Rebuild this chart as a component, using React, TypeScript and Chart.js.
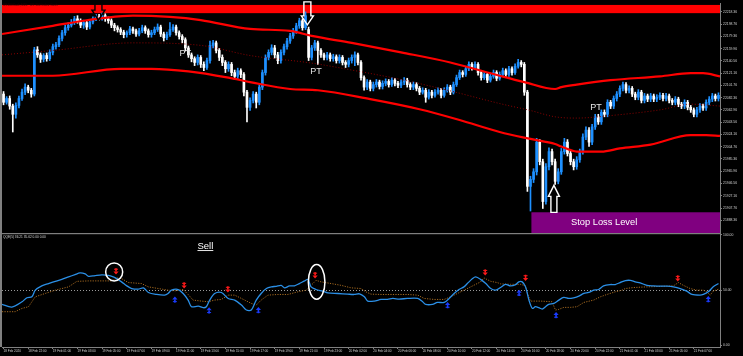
import React, { useEffect, useRef } from "react";
import { Chart, registerables } from "chart.js";
Chart.register(...registerables);

// ---------- price candles (US100Cash M15) ----------
const opens = [
22088,22075,22081,22069,22056,22070,22081,22091,22099,22094,
22088,22158,22150,22143,22149,22144,22154,22163,22166,22176,
22185,22193,22197,22201,22207,22204,22197,22201,22194,22202,
22207,22210,22208,22212,22207,22204,22197,22193,22190,22186,
22182,22185,22191,22188,22183,22188,22193,22188,22182,22185,
22190,22194,22183,22177,22182,22190,22194,22185,22179,22174,
22161,22150,22144,22138,22146,22135,22130,22141,22165,22169,
22157,22146,22138,22128,22135,22122,22116,22125,22119,22091,
22067,22078,22088,22075,22099,22122,22146,22154,22161,22150,
22141,22154,22163,22172,22180,22188,22196,22204,22193,22190,
22146,22161,22169,22157,22150,22146,22150,22144,22147,22141,
22146,22138,22135,22141,22146,22150,22138,22114,22099,22107,
22097,22103,22107,22100,22105,22108,22103,22110,22105,22102,
22107,22110,22103,22099,22103,22097,22091,22094,22083,22091,
22086,22091,22094,22086,22094,22099,22091,22103,22114,22122,
22119,22128,22135,22130,22135,22122,22114,22119,22110,22116,
22122,22113,22119,22125,22119,22128,22122,22132,22138,22135,
22091,21942,21953,21965,22012,21981,21918,21973,21997,21981,
21950,21965,21997,22012,21994,21981,21973,21984,21997,22020,
22031,22012,22036,22052,22044,22059,22056,22075,22069,22081,
22088,22097,22103,22094,22097,22088,22083,22091,22078,22085,
22080,22085,22080,22083,22086,22081,22085,22078,22075,22080,
22072,22069,22075,22067,22063,22056,22063,22069,22066,22075,
22080,22085,22081
];
const closes = [
22075,22081,22069,22056,22070,22081,22091,22099,22094,22088,
22158,22150,22143,22149,22144,22154,22163,22166,22176,22185,
22193,22197,22201,22207,22204,22197,22201,22194,22202,22207,
22210,22208,22212,22207,22204,22197,22193,22190,22186,22182,
22185,22191,22188,22183,22188,22193,22188,22182,22185,22190,
22194,22183,22177,22182,22190,22194,22185,22179,22174,22161,
22150,22144,22138,22146,22135,22130,22141,22165,22169,22157,
22146,22138,22128,22135,22122,22116,22125,22119,22091,22067,
22078,22088,22075,22099,22122,22146,22154,22161,22150,22141,
22154,22163,22172,22180,22188,22196,22204,22193,22212,22146,
22161,22169,22157,22150,22146,22150,22144,22147,22141,22146,
22138,22135,22141,22146,22150,22138,22114,22099,22107,22097,
22103,22107,22100,22105,22108,22103,22110,22105,22102,22107,
22110,22103,22099,22103,22097,22091,22094,22083,22091,22086,
22091,22094,22086,22094,22099,22091,22103,22114,22122,22119,
22128,22135,22130,22135,22122,22114,22119,22110,22116,22122,
22113,22119,22125,22119,22128,22122,22132,22138,22135,22091,
21942,21953,21965,22012,21981,21918,21973,21997,21981,21950,
21965,21997,22012,21994,21981,21973,21984,21997,22020,22031,
22012,22036,22052,22044,22059,22056,22075,22069,22081,22088,
22097,22103,22094,22097,22088,22083,22091,22078,22085,22080,
22085,22080,22083,22086,22081,22085,22078,22075,22080,22072,
22069,22075,22067,22063,22056,22063,22069,22066,22075,22080,
22085,22081,22086
];
const highs = [
22092,22084,22085,22072,22074,22085,22096,22104,22102,22097,
22162,22163,22153,22152,22153,22158,22167,22170,22180,22189,
22197,22201,22206,22211,22212,22207,22205,22204,22206,22210,
22214,22214,22216,22215,22210,22207,22200,22196,22193,22189,
22188,22195,22194,22191,22192,22197,22196,22191,22189,22194,
22199,22197,22186,22186,22201,22198,22197,22188,22182,22177,
22164,22153,22147,22150,22149,22139,22145,22172,22173,22172,
22160,22150,22141,22139,22138,22126,22129,22128,22122,22094,
22082,22092,22091,22103,22126,22150,22158,22166,22165,22154,
22158,22167,22176,22184,22192,22200,22208,22207,22218,22194,
22165,22173,22172,22160,22153,22154,22153,22151,22150,22150,
22149,22141,22145,22150,22155,22153,22141,22117,22111,22110,
22107,22111,22110,22109,22112,22111,22114,22113,22108,22111,
22114,22113,22106,22107,22106,22100,22098,22097,22095,22094,
22095,22098,22097,22098,22103,22102,22107,22118,22126,22125,
22132,22139,22138,22139,22138,22125,22123,22122,22120,22126,
22125,22123,22129,22128,22132,22131,22136,22143,22141,22138,
22094,21958,21970,22018,22016,21985,21978,22003,22001,21985,
21970,22002,22018,22016,21998,21985,21989,22001,22025,22036,
22035,22040,22056,22056,22063,22063,22079,22078,22085,22092,
22101,22107,22106,22101,22100,22091,22095,22094,22089,22088,
22089,22088,22087,22090,22089,22089,22088,22081,22084,22083,
22075,22079,22078,22070,22066,22067,22073,22072,22079,22084,
22089,22088,22090
];
const lows = [
22071,22072,22064,22028,22050,22066,22078,22087,22090,22083,
22085,22146,22138,22139,22140,22141,22150,22159,22163,22172,
22181,22189,22194,22198,22200,22193,22192,22190,22191,22199,
22204,22205,22205,22203,22200,22193,22188,22186,22182,22177,
22178,22182,22184,22179,22180,22185,22184,22178,22178,22182,
22187,22179,22172,22174,22179,22187,22181,22175,22169,22156,
22146,22139,22133,22134,22130,22125,22127,22137,22161,22153,
22141,22133,22122,22124,22117,22111,22112,22114,22085,22044,
22062,22074,22066,22071,22095,22118,22142,22150,22145,22136,
22137,22150,22159,22168,22176,22184,22192,22189,22190,22141,
22142,22157,22135,22146,22142,22142,22140,22140,22137,22137,
22134,22130,22131,22137,22133,22134,22110,22094,22095,22093,
22093,22099,22096,22096,22101,22099,22100,22101,22098,22098,
22103,22099,22095,22095,22093,22087,22088,22075,22080,22082,
22083,22088,22082,22083,22091,22087,22088,22100,22111,22115,
22116,22125,22126,22127,22118,22110,22111,22106,22107,22113,
22109,22110,22116,22115,22116,22118,22119,22129,22131,22086,
21934,21903,21948,21960,21976,21907,21914,21968,21976,21945,
21946,21961,21993,21990,21976,21968,21969,21980,21993,22016,
22005,22008,22032,22040,22040,22052,22052,22065,22065,22077,
22084,22093,22090,22090,22084,22079,22079,22074,22074,22076,
22076,22076,22076,22079,22077,22077,22074,22071,22071,22068,
22065,22065,22063,22059,22052,22052,22059,22062,22062,22071,
22076,22077,22077
];

// ---------- axis ticks ----------
const timeTickBars = [0,8,16,24,32,40,48,56,64,72,80,88,96,104,112,120,128,136,144,152,160,168,176,184,192,200,208,216,224];
const timeLabels = [
"18 Feb 2020","18 Feb 22:00","19 Feb 01:00","19 Feb 03:00","19 Feb 05:00","19 Feb 07:00","19 Feb 09:00",
"19 Feb 11:00","19 Feb 13:00","19 Feb 15:00","19 Feb 17:00","19 Feb 19:00","19 Feb 21:00","19 Feb 23:00",
"20 Feb 02:00","20 Feb 04:00","20 Feb 06:00","20 Feb 08:00","20 Feb 10:00","20 Feb 12:00","20 Feb 14:00",
"20 Feb 16:00","20 Feb 18:00","20 Feb 20:00","20 Feb 22:00","21 Feb 01:00","21 Feb 03:00","21 Feb 05:00","21 Feb 07:00"
];
const priceTicks = [22218.36,22198.76,22179.36,22159.96,22140.56,22121.16,22101.76,22082.36,22062.96,22043.56,22024.16,22004.76,21985.36,21965.96,21946.56,21927.16,21907.76,21888.36];
const qqeTicks = [100, 50, 0];

// ---------- envelope bands ----------
const upperBandBars = [-0.5,16,26,32,42,54,64,80,93,100,113,129,145,161,169,179,181,186,197,213,223,227,232.5];
const upperBand = [22183,22196,22204,22208,22212,22210,22205,22191,22188,22180,22169,22154,22138,22117,22107,22096,22099,22103,22110,22116,22121,22121,22116];
const lowerBandBars = [-0.5,16,38,48,60,73,80,93,102,119,135,148,161,171,179,181,186,194,200,210,223,228,232.5];
const lowerBand = [22117,22117,22128,22128,22124,22114,22107,22096,22094,22080,22064,22047,22028,22017,22009,22005,21997,21997,22002,22008,22023,22023,22022];
const midBandBars = [-0.5,16,42,64,80,100,113,129,145,161,171,179,186,197,213,223,232.5];
const midBand = [22150,22157,22169,22165,22149,22137,22126,22111,22093,22073,22062,22052,22050,22054,22063,22072,22069];

// ---------- QQE indicator ----------
const qqeBars = [-0.5,2.7,6.0,7.6,9.2,10.3,12.4,14.6,16.8,18.9,21.1,23.2,24.8,26.5,27.6,29.7,31.9,34.0,35.6,36.7,38.3,40.0,41.6,43.7,45.4,47.0,49.7,52.3,53.4,54.5,56.7,58.3,59.9,61.0,63.2,64.8,65.8,66.9,68.5,70.7,72.9,75.0,77.2,78.8,80.4,82.0,83.6,85.3,86.9,88.5,90.1,91.2,92.8,94.4,96.0,97.7,98.8,99.8,101.4,103.6,105.2,108.5,111.7,113.8,115.5,117.1,118.2,120.3,122.5,124.6,126.3,128.4,131.1,134.4,136.0,137.0,139.2,140.8,143.0,144.6,146.2,147.8,149.4,150.5,152.2,153.2,154.8,156.5,158.1,159.7,161.3,162.9,164.5,166.2,167.2,168.3,169.4,170.5,171.6,172.6,173.7,174.8,175.9,176.9,178.6,180.2,181.8,183.4,185.0,186.7,188.3,189.9,191.5,193.1,194.7,196.9,198.5,200.1,201.8,203.4,205.0,206.6,208.8,210.9,213.1,215.3,217.4,219.6,221.7,223.4,226.0,227.1,228.7,230.3,232.0];
const qqeValues = [37.1,34.7,39.5,43.1,44.0,50.0,53.9,56.0,58.0,59.8,62.0,64.1,65.6,64.7,62.5,63.2,63.8,63.4,62.0,60.5,57.5,53.9,51.5,50.9,52.1,47.9,46.1,45.5,47.0,50.0,50.6,47.0,41.0,35.0,35.6,34.1,35.0,41.0,47.0,47.9,42.5,41.0,36.5,32.0,32.0,41.0,47.0,51.5,53.0,53.5,54.4,52.1,53.9,53.9,56.0,58.4,59.8,53.0,50.6,49.1,47.6,47.0,46.4,46.1,46.7,44.0,40.1,40.1,41.6,41.6,42.5,41.9,42.5,42.5,39.5,37.1,37.1,38.9,38.9,42.5,47.0,50.6,53.0,56.0,60.5,62.0,59.8,56.0,51.5,50.0,52.4,55.3,53.9,55.1,57.5,57.5,53.0,41.0,33.5,35.0,34.1,32.9,35.0,37.1,38.0,41.0,43.4,42.5,43.1,44.6,47.0,47.9,50.0,50.6,53.9,55.1,55.1,56.9,58.7,58.9,57.5,56.6,54.4,53.9,53.6,53.6,53.0,51.5,49.1,46.1,45.5,46.1,48.5,53.0,56.0];
const trailBars = [-0.5,3.8,6.0,8.1,10.3,13.5,16.8,21.1,23.8,27.6,35.1,36.7,38.3,40.5,44.8,47.0,50.2,53.4,55.6,58.3,59.9,61.5,64.2,66.4,68.5,70.7,72.9,75.0,77.2,80.4,82.0,83.6,85.8,89.0,92.3,95.5,98.2,100.4,101.4,103.1,106.3,109.5,112.8,116.0,117.6,119.2,122.5,131.1,134.4,136.5,139.7,143.0,145.1,147.3,149.4,151.6,154.8,155.9,158.1,160.2,161.3,164.5,167.8,169.4,170.0,171.0,174.3,178.0,179.1,180.2,181.8,184.0,186.1,188.3,191.5,193.7,195.8,198.5,200.7,201.8,204.5,208.8,215.3,217.4,219.0,220.6,222.8,225.0,227.1,228.2,229.3,230.3,232.0];
const trailValues = [30.5,30.5,33.5,35.0,44.0,47.0,50.0,53.0,58.0,58.4,58.4,61.1,60.5,56.9,56.0,53.0,51.5,50.0,49.4,50.6,46.1,41.0,40.1,39.5,41.0,41.6,45.5,45.5,42.5,38.0,36.5,41.0,45.5,46.1,46.1,48.5,50.0,56.0,58.9,57.5,56.0,54.4,52.1,51.5,48.5,46.4,46.1,46.1,45.5,42.5,41.6,41.6,44.0,47.0,50.0,53.0,57.5,61.1,58.0,56.9,55.7,55.3,55.3,53.9,47.0,40.1,40.1,39.5,32.0,32.6,34.4,34.4,35.0,38.9,41.0,44.0,46.1,48.5,50.0,51.5,52.4,53.0,53.6,53.9,56.9,54.4,51.5,50.0,50.0,48.5,45.5,49.1,50.9];
const qqeLevel = 50;
const sellArrowBars = [36.5,58.6,72.8,101.1,156.3,169.4,218.8];
const sellArrowValues = [67.0,54.2,50.6,63.4,65.9,61.1,60.5];
const buyArrowBars = [55.6,66.7,82.7,144.1,167.3,179.3,228.7];
const buyArrowValues = [41.6,31.7,32.0,36.5,47.6,27.5,41.9];
const circleBars = [35.9, 101.6];
const circleValues = [66.5, 57.5];
const sellLabelBar = 65.5;
const sellLabelValue = 90.1;

// ---------- chart objects ----------
const resistanceZone = [22216, 22229];
const stopLossZone = [21868.2, 21901];
const stopLossStartBar = 171.3;
const stopLossLabelBar = 194.9;
const stopLossLabelPrice = 21885.5;
const signalArrowBars = [30.8, 98.6, 178.6];
const signalArrowPrices = [22205, 22197.5, 21943.5];
const ptBars = [59.0, 101.4, 192.3];
const ptPrices = [22152.8, 22123.3, 22066.6];

const BULL = "#1e90ff";
const BEAR = "#ffffff";
const GRID = "#808080";
const FONT = "'Liberation Sans', Arial, sans-serif";

function blockArrow(ctx: CanvasRenderingContext2D, x: number, tipY: number, dir: number, len: number, sh: number, hh: number, hl: number, color: string) {
  const baseY = tipY - dir * len;
  const neckY = tipY - dir * hl;
  ctx.beginPath();
  ctx.moveTo(x - sh, baseY);
  ctx.lineTo(x + sh, baseY);
  ctx.lineTo(x + sh, neckY);
  ctx.lineTo(x + hh, neckY);
  ctx.lineTo(x, tipY);
  ctx.lineTo(x - hh, neckY);
  ctx.lineTo(x - sh, neckY);
  ctx.closePath();
  ctx.strokeStyle = color;
  ctx.lineWidth = 1.4;
  ctx.stroke();
}

function smallArrow(ctx: CanvasRenderingContext2D, x: number, y: number, dir: number, color: string) {
  ctx.fillStyle = color;
  const stemTop = dir > 0 ? y - 3.2 : y;
  ctx.fillRect(x - 0.8, stemTop, 1.6, 3.2);
  ctx.beginPath();
  ctx.moveTo(x - 2.6, y);
  ctx.lineTo(x + 2.6, y);
  ctx.lineTo(x, y + dir * 3);
  ctx.closePath();
  ctx.fill();
  ctx.fillRect(x - 2, y - dir * 2.2 - 0.5, 4, 1);
}

const overlay = {
  id: "mtOverlay",
  beforeDraw(chart: any) {
    const { ctx, width, height } = chart;
    ctx.save();
    ctx.fillStyle = "#000";
    ctx.fillRect(0, 0, width, height);
    ctx.restore();
  },
  beforeDatasetsDraw(chart: any) {
    const { ctx, scales } = chart;
    const xs = scales.x, ys = scales.y, y2 = scales.y2;
    ctx.save();
    let top = ys.getPixelForValue(resistanceZone[1]);
    let bot = ys.getPixelForValue(resistanceZone[0]);
    ctx.fillStyle = "#ff0000";
    ctx.fillRect(xs.left, top, xs.right - xs.left, bot - top);
    top = ys.getPixelForValue(stopLossZone[1]);
    bot = ys.getPixelForValue(stopLossZone[0]);
    const sx = xs.getPixelForValue(stopLossStartBar);
    ctx.fillStyle = "#800080";
    ctx.fillRect(sx, top, xs.right - sx, bot - top);
    const ly = Math.round(y2.getPixelForValue(qqeLevel)) + 0.5;
    ctx.strokeStyle = "#9a9a9a";
    ctx.lineWidth = 1;
    ctx.setLineDash([1, 2]);
    ctx.beginPath();
    ctx.moveTo(xs.left, ly);
    ctx.lineTo(xs.right, ly);
    ctx.stroke();
    ctx.setLineDash([]);
    ctx.restore();
  },
  afterDatasetsDraw(chart: any) {
    const { ctx, scales } = chart;
    const xs = scales.x, ys = scales.y, y2 = scales.y2;
    ctx.save();
    const arrowStyles = [
      { dir: 1, len: 18, sh: 3.5, hh: 6.5, hl: 10, color: "#000000" },
      { dir: 1, len: 23, sh: 3.5, hh: 6, hl: 9, color: "#ffffff" },
      { dir: -1, len: 27, sh: 3, hh: 5.5, hl: 11, color: "#ffffff" },
    ];
    signalArrowBars.forEach((b, i) => {
      const s = arrowStyles[i];
      blockArrow(ctx, xs.getPixelForValue(b), ys.getPixelForValue(signalArrowPrices[i]), s.dir, s.len, s.sh, s.hh, s.hl, s.color);
    });
    ctx.fillStyle = "#e6e6e6";
    ctx.font = `9px ${FONT}`;
    ctx.textAlign = "center";
    ctx.textBaseline = "middle";
    ptBars.forEach((b, i) => {
      ctx.fillText("PT", xs.getPixelForValue(b), ys.getPixelForValue(ptPrices[i]));
    });
    ctx.fillStyle = "#ffffff";
    ctx.font = `9.3px ${FONT}`;
    ctx.fillText("Stop Loss Level", xs.getPixelForValue(stopLossLabelBar), ys.getPixelForValue(stopLossLabelPrice));
    sellArrowBars.forEach((b, i) => smallArrow(ctx, xs.getPixelForValue(b), y2.getPixelForValue(sellArrowValues[i]), 1, "#ff1a1a"));
    buyArrowBars.forEach((b, i) => smallArrow(ctx, xs.getPixelForValue(b), y2.getPixelForValue(buyArrowValues[i]), -1, "#1a3cff"));
    const radii = [[8.5, 9], [8.3, 17.3]];
    ctx.strokeStyle = "#ffffff";
    ctx.lineWidth = 1.5;
    circleBars.forEach((b, i) => {
      ctx.beginPath();
      ctx.ellipse(xs.getPixelForValue(b), y2.getPixelForValue(circleValues[i]), radii[i][0], radii[i][1], 0, 0, Math.PI * 2);
      ctx.stroke();
    });
    const sxp = xs.getPixelForValue(sellLabelBar);
    const syp = y2.getPixelForValue(sellLabelValue);
    ctx.fillStyle = "#ffffff";
    ctx.font = `9.5px ${FONT}`;
    ctx.fillText("Sell", sxp, syp);
    const w = ctx.measureText("Sell").width;
    ctx.fillRect(sxp - w / 2, syp + 4.2, w, 0.9);
    ctx.restore();
  },
  afterDraw(chart: any) {
    const { ctx, scales } = chart;
    const xs = scales.x, ys = scales.y;
    ctx.save();
    ctx.fillStyle = GRID;
    ctx.fillRect(0, 0, 2, xs.top);
    ctx.fillRect(0, ys.bottom, xs.right, 1.2);
    ctx.textAlign = "left";
    ctx.textBaseline = "top";
    ctx.font = `3.2px ${FONT}`;
    ctx.fillStyle = "#2a0000";
    ctx.fillText("US100Cash,M15:  US 100 Index Cash", 3, 4);
    ctx.fillStyle = "#d8d8d8";
    ctx.fillText("QQE(5) 36.21 35.62 0.00 0.00", 3, 235.5);
    ctx.restore();
  },
};

export default function App() {
  const ref = useRef<HTMLCanvasElement>(null);
  useEffect(() => {
    document.body.style.margin = "0";
    document.body.style.background = "#000";
    const canvas = ref.current!;
    const idx = closes.map((_, i) => i);
    const candleColors = closes.map((c, i) => (c >= opens[i] ? BULL : BEAR));
    const pts = (xs: number[], ys: number[]) => xs.map((x, i) => ({ x, y: ys[i] }));

    const chart = new Chart(canvas, {
      type: "bar",
      data: {
        datasets: [
          { type: "line", label: "Upper", data: pts(upperBandBars, upperBand), borderColor: "#ff0000", borderWidth: 2.2, pointRadius: 0, cubicInterpolationMode: "monotone", yAxisID: "y", order: 0 } as any,
          { type: "line", label: "Lower", data: pts(lowerBandBars, lowerBand), borderColor: "#ff0000", borderWidth: 2.2, pointRadius: 0, cubicInterpolationMode: "monotone", yAxisID: "y", order: 0 } as any,
          { type: "line", label: "Middle", data: pts(midBandBars, midBand), borderColor: "#8a0000", borderWidth: 1, borderDash: [1, 2], pointRadius: 0, cubicInterpolationMode: "monotone", yAxisID: "y", order: 0 } as any,
          { type: "bar", label: "Wicks", data: idx.map((i) => ({ x: i, y: [lows[i], highs[i]] })), backgroundColor: candleColors, barThickness: 1, grouped: false, yAxisID: "y", order: 3 } as any,
          { type: "bar", label: "Bodies", data: idx.map((i) => ({ x: i, y: [opens[i], closes[i]] })), backgroundColor: candleColors, barThickness: 2, grouped: false, yAxisID: "y", order: 2 } as any,
          { type: "line", label: "QQE", data: pts(qqeBars, qqeValues), borderColor: "#2b8fe6", borderWidth: 1.3, pointRadius: 0, tension: 0.3, yAxisID: "y2", order: 0 } as any,
          { type: "line", label: "Trail", data: pts(trailBars, trailValues), borderColor: "#a4691f", borderWidth: 1, borderDash: [1.2, 1.3], pointRadius: 0, tension: 0, yAxisID: "y2", order: 1 } as any,
        ],
      },
      options: {
        responsive: false,
        animation: false,
        devicePixelRatio: 1,
        layout: { padding: { left: 2, top: 0, right: 0, bottom: 0 } },
        plugins: { legend: { display: false }, tooltip: { enabled: false } },
        scales: {
          x: {
            type: "linear",
            position: "bottom",
            min: -0.5,
            max: 232.5,
            offset: false,
            afterBuildTicks: (s: any) => { s.ticks = timeTickBars.map((v) => ({ value: v })); },
            afterFit: (s: any) => { s.height = 9; },
            grid: { display: true, drawOnChartArea: false, drawTicks: true, tickLength: 2, color: GRID, offset: false },
            border: { display: true, color: GRID },
            ticks: {
              autoSkip: false, maxRotation: 0, minRotation: 0, align: "start", padding: 0,
              color: "#d0d0d0", font: { size: 3.1, family: FONT },
              callback: (_v: any, i: number) => timeLabels[i] ?? "",
            },
          },
          y: {
            type: "linear",
            position: "right",
            stack: "panes",
            stackWeight: 232,
            min: 21868.2,
            max: 22232,
            afterBuildTicks: (s: any) => { s.ticks = priceTicks.map((v) => ({ value: v })); },
            afterFit: (s: any) => { s.width = 23; },
            grid: { drawOnChartArea: false, drawTicks: true, tickLength: 2, color: GRID },
            border: { display: true, color: GRID },
            ticks: { autoSkip: false, padding: 1, color: "#d0d0d0", font: { size: 3.4, family: FONT }, callback: (v: any) => Number(v).toFixed(2) },
          },
          y2: {
            type: "linear",
            position: "right",
            stack: "panes",
            stackWeight: 115,
            min: -1.5,
            max: 101.8,
            afterBuildTicks: (s: any) => { s.ticks = qqeTicks.map((v) => ({ value: v })); },
            afterFit: (s: any) => { s.width = 23; },
            grid: { drawOnChartArea: false, drawTicks: true, tickLength: 2, color: GRID },
            border: { display: true, color: GRID },
            ticks: { autoSkip: false, padding: 1, color: "#d0d0d0", font: { size: 3.4, family: FONT }, callback: (v: any) => Number(v).toFixed(2) },
          },
        },
      } as any,
      plugins: [overlay as any],
    });
    return () => chart.destroy();
  }, []);
  return <canvas ref={ref} width={743} height={356} style={{ display: "block", width: 743, height: 356 }} />;
}
